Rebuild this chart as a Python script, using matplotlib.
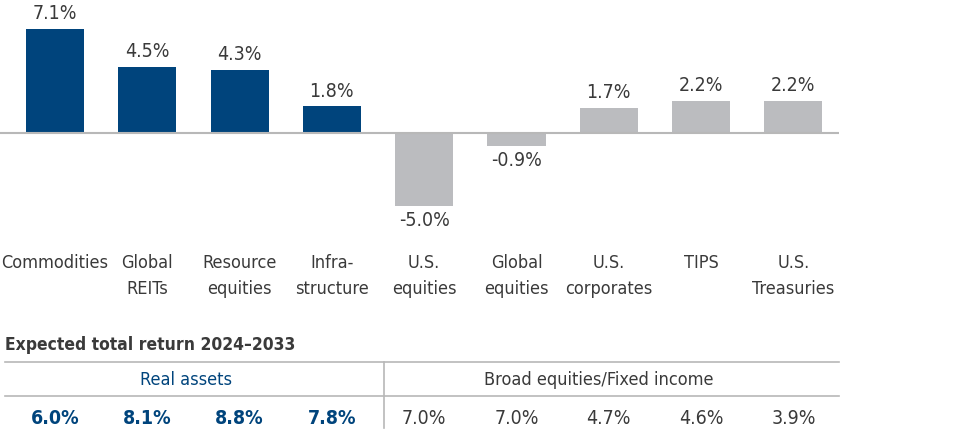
import matplotlib
matplotlib.use("Agg")
import matplotlib.pyplot as plt
from matplotlib.transforms import blended_transform_factory

plt.rcParams["font.family"] = ["DejaVu Sans"]
plt.rcParams["font.stretch"] = "condensed"

categories = ["Commodities", "Global\nREITs", "Resource\nequities", "Infra-\nstructure",
              "U.S.\nequities", "Global\nequities", "U.S.\ncorporates", "TIPS", "U.S.\nTreasuries"]
values = [7.1, 4.5, 4.3, 1.8, -5.0, -0.9, 1.7, 2.2, 2.2]
is_real = [True, True, True, True, False, False, False, False, False]
total_return = [6.0, 8.1, 8.8, 7.8, 7.0, 7.0, 4.7, 4.6, 3.9]
table_title = "Expected total return 2024\u20132033"
group_names = ["Real assets", "Broad equities/Fixed income"]

BLUE = "#00447c"
GREY = "#bbbcbf"
TXT = "#3a3a3a"
LINE = "#b8b8b8"

fig = plt.figure(figsize=(9.66, 4.32), dpi=100)
ax = fig.add_axes([0, 0, 1, 1])
ax.set_xlim(-0.596, 9.87)
ax.set_ylim(-20.5, 9.09)
ax.axis("off")

x = list(range(len(values)))
colors = [BLUE if r else GREY for r in is_real]
ax.bar(x, values, width=0.63, color=colors, zorder=2)
ax.hlines(0, -0.6, 8.49, color=LINE, lw=1.5, zorder=3)

fs = 14
for xi, v in zip(x, values):
    if v >= 0:
        ax.annotate(f"{v:.1f}%", (xi, v), xytext=(0, 4), textcoords="offset points",
                    ha="center", va="bottom", fontsize=fs, color=TXT)
    else:
        ax.annotate(f"{v:.1f}%", (xi, v), xytext=(0, -4), textcoords="offset points",
                    ha="center", va="top", fontsize=fs, color=TXT)

# pixel rows from the top -> figure fraction
H = 432
def fy(p):
    return 1 - p / H

tr = blended_transform_factory(ax.transData, fig.transFigure)
for xi, c in zip(x, categories):
    ax.text(xi, fy(254), c, transform=tr, ha="center", va="top", fontsize=13,
            color=TXT, linespacing=1.6)

ax.text(5 / 966, fy(345), table_title, transform=fig.transFigure, ha="left",
        va="center", fontsize=12.5, fontweight="bold", color=TXT)

x_left, x_mid, x_right = -0.54, 3.56, 8.49
ax.plot([x_left, x_right], [fy(362), fy(362)], transform=tr, color=LINE, lw=1.2)
ax.plot([x_left, x_right], [fy(396), fy(396)], transform=tr, color=LINE, lw=1.2)
ax.plot([x_mid, x_mid], [fy(362), fy(428)], transform=tr, color=LINE, lw=1.2)

ax.text(1.42, fy(380), group_names[0], transform=tr, ha="center", va="center",
        fontsize=13, color=BLUE)
ax.text(5.89, fy(380), group_names[1], transform=tr, ha="center", va="center",
        fontsize=13, color=TXT)

for xi, t, r in zip(x, total_return, is_real):
    ax.text(xi, fy(418), f"{t:.1f}%", transform=tr, ha="center", va="center",
            fontsize=fs, color=BLUE if r else TXT,
            fontweight="bold" if r else "normal")

fig.savefig("out.png", dpi=100)
